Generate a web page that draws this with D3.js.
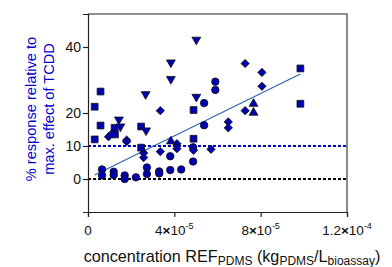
<!DOCTYPE html>
<html>
<head>
<meta charset="utf-8">
<script src="https://d3js.org/d3.v7.min.js"></script>
<style>
  body { margin: 0; background: #fff; }
  svg { display: block; font-family: "Liberation Sans", Arial, sans-serif; }
</style>
</head>
<body>
<svg id="chart" width="392" height="267"></svg>
<script>
// x values are in units of 1e-5 kg/L, y is % response
const squares = [[0.31, 21.9], [0.58, 26.5], [0.58, 16.2], [0.31, 12.0], [1.23, 15.5], [1.25, 13.5],
  [2.46, 15.9], [2.46, 9.5], [4.89, 20.9], [4.89, 12.2], [9.84, 33.5], [9.84, 22.8]];
const trianglesDown = [[5.02, 42.2], [3.84, 35.3], [3.84, 30.3], [2.67, 25.7], [5.02, 24.9],
  [1.43, 18.0], [1.50, 15.9], [2.69, 14.7]];
const trianglesUp = [[7.67, 22.8], [7.67, 20.1], [3.84, 11.4]];
const diamonds = [[7.28, 35.0], [8.06, 32.3], [8.06, 28.1], [7.28, 20.7], [6.50, 17.3], [6.50, 15.5],
  [5.70, 9.0], [4.89, 8.7], [4.12, 10.7], [4.12, 9.2], [3.35, 20.7], [3.35, 8.3], [2.58, 7.9],
  [2.58, 6.5], [0.95, 12.8], [1.10, 13.7], [1.79, 11.8], [1.79, 11.3]];
const circles = [[5.90, 29.5], [5.90, 27.0], [5.38, 23.0], [5.38, 16.3], [4.87, 9.6], [4.87, 5.3],
  [4.32, 2.9], [3.81, 6.9], [3.81, 2.7], [3.30, 2.3], [3.30, 1.7], [2.73, 3.5], [2.73, 1.5],
  [2.22, 0.5], [1.70, 1.1], [1.70, 0.0], [1.19, 2.2], [1.19, 1.2], [0.65, 2.9], [0.65, 1.1]];
// fitted regression line (endpoints)
const fitLine = [[0.31, 1.2], [9.84, 31.8]];
const refLines = [10, 0];

const xTicks = [0, 4, 8, 12];
const xTickLabels = [["0", ""], ["4", "-5"], ["8", "-5"], ["1.2", "-4"]];
const yTicks = [0, 10, 20, 40];

const width = 392, height = 267;
const margin = { left: 88, right: 45, top: 14, bottom: 55 };
const svg = d3.select("#chart");

const x = d3.scaleLinear().domain([0, 12]).range([margin.left, width - margin.right]);
const y = d3.scaleLinear().domain([-10, 50]).range([height - margin.bottom, margin.top]);

const fillCol = "#0000b0";

// frame (top and right)
svg.append("path")
  .attr("d", `M${x(0)},${y(50)}H${x(12)}V${y(-10)}`)
  .attr("fill", "none").attr("stroke", "#6e6e6e").attr("stroke-width", 1.6);

// reference dashed lines
svg.append("g").selectAll("line").data(refLines).join("line")
  .attr("x1", x(0)).attr("x2", x(12))
  .attr("y1", d => y(d)).attr("y2", d => y(d))
  .attr("stroke", d => d === 10 ? "#0000cc" : "#000")
  .attr("stroke-width", 1.8)
  .attr("stroke-dasharray", "3,2");

// regression line
svg.append("line")
  .attr("x1", x(fitLine[0][0])).attr("y1", y(fitLine[0][1]))
  .attr("x2", x(fitLine[1][0])).attr("y2", y(fitLine[1][1]))
  .attr("stroke", "#2a64b0").attr("stroke-width", 1.1);

// axes
svg.append("g")
  .attr("transform", `translate(0,${y(-10)})`)
  .call(d3.axisBottom(x).tickValues(xTicks).tickSize(5).tickFormat(""));
svg.append("g")
  .attr("transform", `translate(${x(0)},0)`)
  .call(d3.axisLeft(y).tickValues(yTicks).tickSize(5).tickFormat(""));
svg.selectAll(".domain").attr("stroke", "#222").attr("stroke-width", 1.2);
svg.selectAll(".tick line").attr("stroke", "#222").attr("stroke-width", 1.2);

// y tick labels
svg.append("g").selectAll("text").data(yTicks).join("text")
  .attr("x", x(0) - 7).attr("y", d => y(d))
  .attr("dy", "0.36em")
  .attr("text-anchor", "end")
  .attr("font-size", 14).attr("fill", "#111")
  .text(d => d);

// x tick labels with superscripts
const xl = svg.append("g").selectAll("text").data(xTicks).join("text")
  .attr("x", d => x(d)).attr("y", y(-10) + 23)
  .attr("text-anchor", "middle")
  .attr("font-size", 13.5).attr("fill", "#111");
xl.each(function(d, i) {
  const t = d3.select(this);
  const [m, e] = xTickLabels[i];
  t.append("tspan").text(m);
  if (e) {
    t.append("tspan").attr("font-weight", "bold").text("×");
    t.append("tspan").text("10");
    t.append("tspan").attr("font-size", 9).attr("dy", -6).text(e);
  }
});

// axis titles
const yt = svg.append("text")
  .attr("transform", `translate(36,109) rotate(-90)`)
  .attr("text-anchor", "middle")
  .attr("font-size", 14.6).attr("fill", "#0000cc");
yt.append("tspan").attr("x", 0).attr("dy", 0).text("% response relative to");
yt.append("tspan").attr("x", 0).attr("dy", 17.5).text("max. effect of TCDD");

const xt = svg.append("text")
  .attr("x", 232).attr("y", 262)
  .attr("text-anchor", "middle")
  .attr("font-size", 16.2).attr("fill", "#111");
xt.append("tspan").text("concentration REF");
xt.append("tspan").attr("font-size", 12).attr("dy", 3).text("PDMS");
xt.append("tspan").attr("dy", -3).text(" (kg");
xt.append("tspan").attr("font-size", 12).attr("dy", 3).text("PDMS");
xt.append("tspan").attr("dy", -3).text("/L");
xt.append("tspan").attr("font-size", 12).attr("dy", 3).text("bioassay");
xt.append("tspan").attr("dy", -3).text(")");

// markers
function drawSeries(data, type, size, rot) {
  svg.append("g").selectAll("path").data(data).join("path")
    .attr("d", d3.symbol().type(type).size(size))
    .attr("transform", d => `translate(${x(d[0])},${y(d[1])}) rotate(${rot})`)
    .attr("fill", fillCol).attr("stroke", "#111").attr("stroke-width", 0.8);
}
drawSeries(circles, d3.symbolCircle, 44, 0);
drawSeries(diamonds, d3.symbolSquare, 34, 45);
drawSeries(squares, d3.symbolSquare, 46, 0);
drawSeries(trianglesUp, d3.symbolTriangle, 34, 0);
drawSeries(trianglesDown, d3.symbolTriangle, 34, 180);
</script>
</body>
</html>
